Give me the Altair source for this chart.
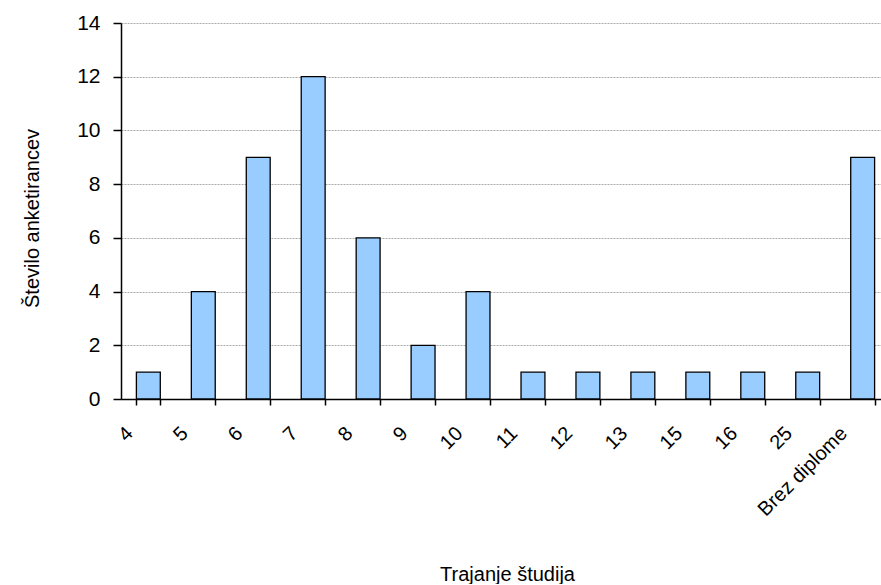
import altair as alt
import pandas as pd

# Survey: duration of studies (years) and number of respondents
categories = ["4", "5", "6", "7", "8", "9", "10", "11", "12", "13", "15", "16", "25", "Brez diplome"]
counts = [1, 4, 9, 12, 6, 2, 4, 1, 1, 1, 1, 1, 1, 9]

df = pd.DataFrame({"trajanje": categories, "stevilo": counts})

FONT = "Liberation Sans"

bars = alt.Chart(df).mark_bar(
    color="#99CCFF", stroke="#000000", strokeWidth=1.3
).encode(
    x=alt.X(
        "trajanje:N",
        sort=categories,
        scale=alt.Scale(range=[0, 769], paddingInner=0.565, paddingOuter=0.28),
        axis=alt.Axis(
            title="Trajanje študija",
            labelAngle=-45,
            labelAlign="right",
            labelBaseline="middle",
            labelFontSize=20,
            labelOffset=-19,
            labelPadding=25,
            labelColor="#000000",
            labelFont=FONT,
            tickBand="extent",
            tickSize=6,
            tickColor="#000000",
            tickWidth=1.5,
            domainColor="#000000",
            domainWidth=1.5,
            grid=False,
            titleFont=FONT,
            titleFontSize=20,
            titleFontWeight="normal",
            titleColor="#000000",
            titleX=386,
            titleY=181,
            titleAlign="center",
            titleBaseline="alphabetic",
        ),
    ),
    y=alt.Y(
        "stevilo:Q",
        scale=alt.Scale(domain=[0, 14], nice=False),
        axis=alt.Axis(
            title="Število anketirancev",
            values=[0, 2, 4, 6, 8, 10, 12, 14],
            format="d",
            labelFontSize=21,
            labelFont=FONT,
            labelColor="#000000",
            labelPadding=13,
            tickSize=8,
            tickColor="#000000",
            tickWidth=1.5,
            domainColor="#000000",
            domainWidth=1.5,
            grid=True,
            gridColor="#aaaaaa",
            gridDash=[2, 1],
            gridWidth=1,
            titleFont=FONT,
            titleFontSize=20,
            titleFontWeight="normal",
            titleColor="#000000",
            titleX=-89,
            titleY=195,
            titleAngle=270,
            titleAlign="center",
            titleBaseline="middle",
        ),
    ),
)

chart = bars.properties(
    width=760,
    height=376,
    autosize=alt.AutoSizeParams(type="none"),
    padding={"left": 121, "top": 23, "right": 0, "bottom": 185},
    background="#ffffff",
).configure_view(stroke=None)

chart.save("out.html", embed_options={"renderer": "svg", "actions": False})
